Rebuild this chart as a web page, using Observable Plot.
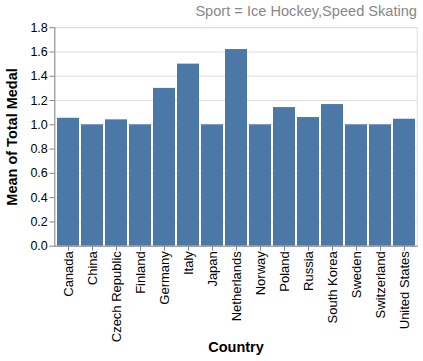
<!DOCTYPE html>
<html><head><meta charset="utf-8">
<script src="https://cdn.jsdelivr.net/npm/d3@7"></script>
<script src="https://cdn.jsdelivr.net/npm/@observablehq/plot@0.6"></script>
<style>
body{margin:0;background:#fff;font-family:"Liberation Sans",Arial,sans-serif;}
#wrap{width:423px;position:relative;}
#title{height:20px;box-sizing:border-box;padding-right:6px;text-align:right;color:#888;font-size:14.6px;line-height:22px;white-space:nowrap;}
</style></head>
<body><div id="wrap"><div id="title">Sport = Ice Hockey,Speed Skating</div><div id="chart"></div></div>
<script>
const countries = ["Canada","China","Czech Republic","Finland","Germany","Italy","Japan","Netherlands","Norway","Poland","Russia","South Korea","Sweden","Switzerland","United States"];
const meanMedal = [1.054,1.0,1.041,1.0,1.3,1.5,1.0,1.62,1.0,1.142,1.06,1.167,1.0,1.0,1.046];
const yTicks = [0,0.2,0.4,0.6,0.8,1.0,1.2,1.4,1.6,1.8];
const xTitle = "Country";
const yTitle = "Mean of Total Medal";

const data = countries.map((c,i)=>({country:c, value:meanMedal[i]}));
const font = "Liberation Sans, Arial, sans-serif";
const chart = Plot.plot({
  width:423, height:341,
  marginTop:7.2, marginBottom:115.3, marginLeft:54.3, marginRight:6.3,
  style:{fontFamily:font, fontSize:"13px", color:"#000", background:"#fff"},
  x:{domain:countries, type:"band", paddingInner:0.1, paddingOuter:0.05, label:null, axis:null},
  y:{domain:[0,1.8], label:null, axis:null},
  marks:[
    Plot.gridY(yTicks,{stroke:"#ddd", strokeOpacity:1}),
    Plot.frame({stroke:"#ddd"}),
    Plot.barY(data,{x:"country", y:"value", fill:"#4c78a8"}),
    Plot.frame({anchor:"left", stroke:"#888"}),
    Plot.frame({anchor:"bottom", stroke:"#888"}),
    Plot.axisY(yTicks,{tickSize:5, tickPadding:2, stroke:"#888", fill:"#000", tickFormat:d3.format(".1f"), label:null, fontSize:12.5}),
    Plot.axisX({tickSize:5, tickPadding:0, stroke:"#888", fill:"#000", tickRotate:-90, label:null, fontSize:13}),
    Plot.text([xTitle],{frameAnchor:"bottom", dy:106, text:d=>d, fontWeight:"bold", fontSize:14.5, fill:"#000"}),
    Plot.text([yTitle],{frameAnchor:"left", dx:-42, rotate:-90, textAnchor:"middle", text:d=>d, fontWeight:"bold", fontSize:14.5, fill:"#000"})
  ]
});
document.getElementById("chart").appendChild(chart);
</script></body></html>
